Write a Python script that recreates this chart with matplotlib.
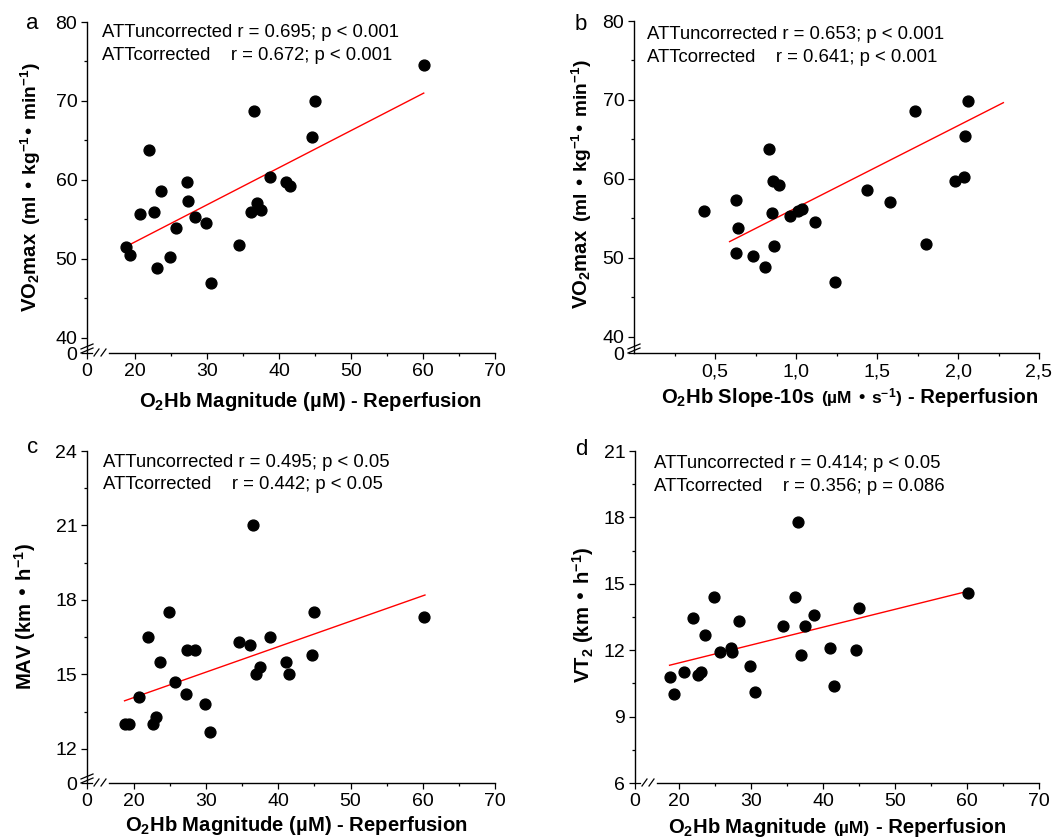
import numpy as np
import matplotlib
matplotlib.use('Agg')
import matplotlib.pyplot as plt

plt.rcParams['font.family'] = ['Liberation Sans', 'DejaVu Sans']
plt.rcParams['mathtext.default'] = 'regular'

W, H = 1064, 840

# O2Hb magnitude during reperfusion (uM), shared by panels a, c and d
o2hb_mag = [18.8, 19.35, 20.7, 21.9, 22.7, 23.05, 23.6, 24.9, 25.7, 27.2, 27.4, 28.4, 29.9,
            30.6, 34.5, 36.1, 36.5, 36.9, 37.5, 38.8, 41.0, 41.5, 44.6, 45.0, 60.1]
vo2max = [51.5, 50.5, 55.7, 63.8, 55.9, 48.9, 58.6, 50.3, 53.9, 59.8, 57.4, 55.3, 54.5,
          47.0, 51.8, 56.0, 68.7, 57.1, 56.2, 60.4, 59.8, 59.3, 65.5, 70.0, 74.6]
mav = [13.0, 13.0, 14.1, 16.5, 13.0, 13.3, 15.5, 17.5, 14.7, 14.2, 16.0, 16.0, 13.8,
       12.7, 16.3, 16.2, 21.0, 15.0, 15.3, 16.5, 15.5, 15.0, 15.8, 17.5, 17.3]
vt2 = [10.8, 10.0, 11.0, 13.45, 10.9, 11.0, 12.7, 14.4, 11.9, 12.1, 11.9, 13.3, 11.3,
       10.1, 13.1, 14.4, 17.8, 11.8, 13.1, 13.6, 12.1, 10.4, 12.0, 13.9, 14.6]

# panel b: O2Hb slope over the first 10 s (uM/s)
o2hb_slope = [0.43, 0.63, 0.63, 0.64, 0.735, 0.81, 0.835, 0.85, 0.86, 0.865, 0.895, 0.96,
              1.01, 1.04, 1.12, 1.24, 1.44, 1.58, 1.735, 1.805, 1.98, 2.035, 2.045, 2.06]
vo2max_b = [56.0, 57.3, 50.6, 53.8, 50.3, 48.9, 63.8, 55.7, 59.8, 51.5, 59.2, 55.3,
            55.9, 56.2, 54.5, 47.0, 58.6, 57.1, 68.6, 51.8, 59.7, 60.3, 65.4, 69.9]

# regression lines (ends)
fit_x_a, fit_y_a = [18.8, 60.1], [51.6, 71.0]
fit_x_b, fit_y_b = [0.59, 2.28], [52.07, 69.66]
fit_x_c, fit_y_c = [18.7, 60.3], [13.94, 18.2]
fit_x_d, fit_y_d = [18.7, 60.2], [11.32, 14.67]

stats_a = ['ATTuncorrected r = 0.695; p < 0.001', 'ATTcorrected    r = 0.672; p < 0.001']
stats_b = ['ATTuncorrected r = 0.653; p < 0.001', 'ATTcorrected    r = 0.641; p < 0.001']
stats_c = ['ATTuncorrected r = 0.495; p < 0.05', 'ATTcorrected    r = 0.442; p < 0.05']
stats_d = ['ATTuncorrected r = 0.414; p < 0.05', 'ATTcorrected    r = 0.356; p = 0.086']

fig = plt.figure(figsize=(W / 100, H / 100), dpi=100)


def px_axes(l, t, r, b):
    return fig.add_axes([l / W, 1 - b / H, (r - l) / W, (b - t) / H])


def style(ax, xlim, xt, xtl, xmin, ylim, yt, ytl, ymin):
    ax.set_xlim(xlim)
    ax.set_ylim(ylim)
    ax.set_xticks(xt)
    ax.set_xticklabels(xtl)
    ax.set_xticks(xmin, minor=True)
    ax.set_yticks(yt)
    ax.set_yticklabels(ytl)
    ax.set_yticks(ymin, minor=True)
    for s in ['top', 'right']:
        ax.spines[s].set_visible(False)
    for s in ['left', 'bottom']:
        ax.spines[s].set_linewidth(1.0)
    ax.tick_params(which='major', direction='out', length=4.5, width=0.9, labelsize=14, pad=2.5)
    ax.tick_params(which='minor', direction='out', length=2.5, width=0.9)
    ax.tick_params(axis='x', which='major', pad=3)


def scatter(ax, x, y, fx, fy):
    ax.plot(fx, fy, color='red', lw=1.0, zorder=2)
    ax.plot(x, y, 'o', color='black', ms=7.8, mec='black', zorder=3, clip_on=False)


def slash(ax, x0, y0, x1, y1, wpx, hpx):
    ax.plot([x0 / wpx, x1 / wpx], [y0 / hpx, y1 / hpx], transform=ax.transAxes,
            color='black', lw=0.9, clip_on=False, zorder=5)


def xbreak(ax, wpx, hpx, xlim):
    # gap in the x axis next to the origin with two slashes
    x_end = xlim[0] + (xlim[1] - xlim[0]) * 22 / wpx
    ax.spines['bottom'].set_bounds(x_end, xlim[1])
    slash(ax, 0, 0, 5, 0, wpx, hpx)
    slash(ax, 7, -3, 12, 4, wpx, hpx)
    slash(ax, 14, -3, 19, 4, wpx, hpx)


def ybreak(ax, wpx, hpx):
    slash(ax, -6, 4, 6, 9, wpx, hpx)
    slash(ax, -6, 0, 6, 5, wpx, hpx)


renderer = fig.canvas.get_renderer()


def pieces(parts, cx, cy, vertical=False):
    # parts: (text, size, gap after in px); cx/cy: label centre and baseline in pixels
    texts = []
    total = 0
    for s, size, gap in parts:
        t = fig.text(0, 0, s, fontsize=size, fontweight='bold',
                     rotation=90 if vertical else 0, rotation_mode='anchor',
                     ha='left', va='baseline')
        bb = t.get_window_extent(renderer)
        ln = (bb.height if vertical else bb.width) + gap
        texts.append((t, ln))
        total += ln
    pos = cy + total / 2 if vertical else cx - total / 2
    for t, ln in texts:
        if vertical:
            t.set_position((cx / W, 1 - pos / H))
            pos -= ln
        else:
            t.set_position((pos / W, 1 - cy / H))
            pos += ln


def stats(lines, x, y1, y2):
    fig.text(x / W, 1 - y1 / H, lines[0], fontsize=13.3, va='baseline')
    fig.text(x / W, 1 - y2 / H, lines[1], fontsize=13.3, va='baseline')


# ---------- panel a ----------
l, t, r, b = 87, 22, 495, 353
ax = px_axes(l, t, r, b)
xl = (13.33, 70)
yl = (38.1, 80)
style(ax, xl, [13.33, 20, 30, 40, 50, 60, 70], ['0', '20', '30', '40', '50', '60', '70'],
      [25, 35, 45, 55, 65], yl, [38.1, 40, 50, 60, 70, 80], ['0', '40', '50', '60', '70', '80'],
      [45, 55, 65, 75])
scatter(ax, o2hb_mag, vo2max, fit_x_a, fit_y_a)
xbreak(ax, r - l, b - t, xl)
ybreak(ax, r - l, b - t)

# ---------- panel b ----------
l, t, r, b = 634, 21, 1039, 353
ax = px_axes(l, t, r, b)
yl = (37.97, 80)
style(ax, (0, 2.5), [0.5, 1.0, 1.5, 2.0, 2.5], ['0,5', '1,0', '1,5', '2,0', '2,5'],
      [0.25, 0.75, 1.25, 1.75, 2.25], yl, [37.97, 40, 50, 60, 70, 80],
      ['0', '40', '50', '60', '70', '80'], [45, 55, 65, 75])
scatter(ax, o2hb_slope, vo2max_b, fit_x_b, fit_y_b)
ybreak(ax, r - l, b - t)

# ---------- panel c ----------
l, t, r, b = 87, 451, 495, 783
ax = px_axes(l, t, r, b)
xl = (13.5, 70)
yl = (10.63, 24)
style(ax, xl, [13.5, 20, 30, 40, 50, 60, 70], ['0', '20', '30', '40', '50', '60', '70'],
      [25, 35, 45, 55, 65], yl, [10.63, 12, 15, 18, 21, 24], ['0', '12', '15', '18', '21', '24'],
      [13.5, 16.5, 19.5, 22.5])
scatter(ax, o2hb_mag, mav, fit_x_c, fit_y_c)
xbreak(ax, r - l, b - t, xl)
ybreak(ax, r - l, b - t)

# ---------- panel d ----------
l, t, r, b = 635, 451, 1039, 783
ax = px_axes(l, t, r, b)
xl = (13.9, 70)
style(ax, xl, [13.9, 20, 30, 40, 50, 60, 70], ['0', '20', '30', '40', '50', '60', '70'],
      [25, 35, 45, 55, 65], (6, 21), [6, 9, 12, 15, 18, 21], ['6', '9', '12', '15', '18', '21'],
      [7.5, 10.5, 13.5, 16.5, 19.5])
scatter(ax, o2hb_mag, vt2, fit_x_d, fit_y_d)
xbreak(ax, r - l, b - t, xl)

# panel letters
for s, x, y in [('a', 26, 29), ('b', 575, 30), ('c', 27, 453), ('d', 575, 455)]:
    fig.text(x / W, 1 - y / H, s, fontsize=16, va='baseline')

stats(stats_a, 102, 37, 60)
stats(stats_b, 647, 39, 62)
stats(stats_c, 103, 467, 489)
stats(stats_d, 654, 468, 491)

# axis titles
pieces([('O$_2$Hb Magnitude (µM) - Reperfusion', 14.6, 0)], 310, 407)
pieces([('O$_2$Hb Slope-10s', 14.6, 6), ('(µM • s$^{-1}$)', 12.5, 6), ('- Reperfusion', 14.6, 0)],
       850, 403)
pieces([('O$_2$Hb Magnitude (µM) - Reperfusion', 14.6, 0)], 296, 831)
pieces([('O$_2$Hb Magnitude', 14.6, 6), ('(µM)', 12.5, 6), ('- Reperfusion', 14.6, 0)], 837, 833)

pieces([('VO$_2$max', 14.6, 7), ('(ml • kg$^{-1}$• min$^{-1}$)', 13.8, 0)], 37, 187, vertical=True)
pieces([('VO$_2$max', 14.6, 7), ('(ml • kg$^{-1}$• min$^{-1}$)', 13.8, 0)], 588, 184, vertical=True)
pieces([('MAV (km • h$^{-1}$)', 14.6, 0)], 32, 617, vertical=True)
pieces([('VT$_2$ (km • h$^{-1}$)', 14.6, 0)], 590, 615, vertical=True)

fig.savefig('out.png', dpi=100)
